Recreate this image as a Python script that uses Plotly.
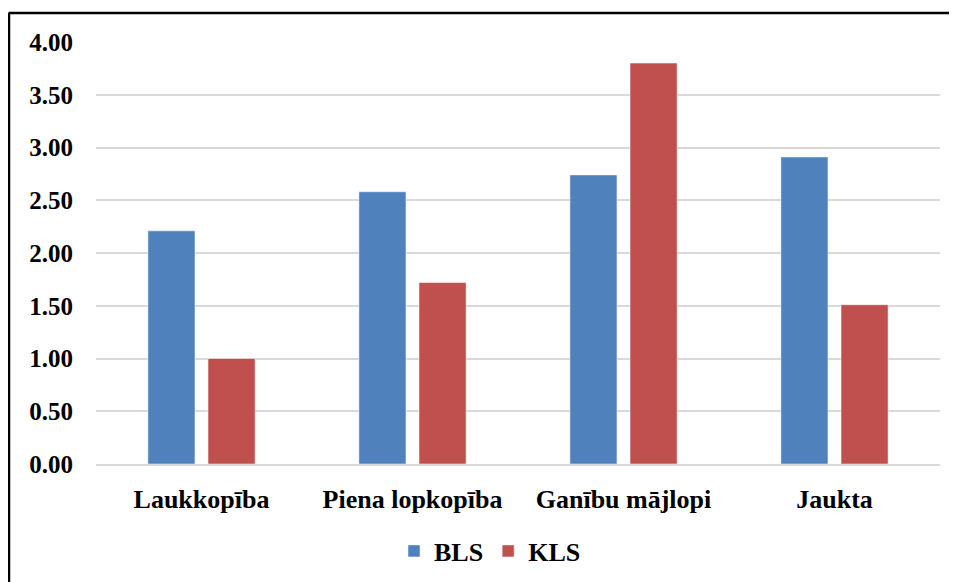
import plotly.graph_objects as go

categories = ["Laukkopība", "Piena lopkopība", "Ganību mājlopi", "Jaukta"]
bls_values = [2.21, 2.58, 2.74, 2.91]
kls_values = [1.00, 1.72, 3.80, 1.51]
y_tick_vals = [0, 0.5, 1, 1.5, 2, 2.5, 3, 3.5, 4]
y_tick_text = ["0.00", "0.50", "1.00", "1.50", "2.00", "2.50", "3.00", "3.50", "4.00"]

FAM = "'Liberation Serif', 'Times New Roman', serif"
TICKFONT = dict(family=FAM, size=25, color="#000000", weight="bold")
CATFONT = dict(family=FAM, size=26, color="#000000", weight="bold")
LEGFONT = dict(family=FAM, size=26, color="#000000", weight="bold")

fig = go.Figure()
fig.add_trace(go.Bar(name="BLS", x=categories, y=bls_values,
                     marker=dict(color="#4F81BD", line=dict(color="#ffffff", width=0.5))))
fig.add_trace(go.Bar(name="KLS", x=categories, y=kls_values,
                     marker=dict(color="#C0504D", line=dict(color="#ffffff", width=0.5))))

# page has an 8px body margin, figure is sized to fill the rest
W, H = 949, 574
OFF = 8
L, R, T, B = 88, 17, 34, 118
pw, ph = W - L - R, H - T - B

def px_x(p):  # page pixel -> paper x
    return (p - OFF - L) / pw

def px_y(p):  # page pixel -> paper y
    return (H - B - (p - OFF)) / ph

fig.update_layout(
    width=W, height=H,
    margin=dict(l=L, r=R, t=T, b=B, pad=0, autoexpand=False),
    paper_bgcolor="white", plot_bgcolor="white",
    barmode="group", bargap=0.43, bargroupgap=0.217,
    font=TICKFONT,
    showlegend=True,
    legend=dict(orientation="h", x=px_x(490), y=px_y(551), xanchor="center", yanchor="middle",
                font=LEGFONT, traceorder="normal", itemwidth=30),
    xaxis=dict(showgrid=False, showline=True, linecolor="#d9d9d9", linewidth=2,
               ticks="", tickfont=CATFONT, ticklabelstandoff=11, automargin=False),
    yaxis=dict(range=[0, 4], tickvals=y_tick_vals, ticktext=y_tick_text,
               showgrid=True, gridcolor="#d9d9d9", gridwidth=2,
               zeroline=False, showline=False, ticks="", tickfont=TICKFONT,
               ticklabelstandoff=22, automargin=False),
    shapes=[
        dict(type="line", xref="paper", yref="paper", x0=px_x(8.5), x1=px_x(970),
             y0=px_y(13), y1=px_y(13), line=dict(color="#000000", width=2.5)),
        dict(type="line", xref="paper", yref="paper", x0=px_x(9), x1=px_x(9),
             y0=px_y(13), y1=px_y(600), line=dict(color="#000000", width=2.5)),
    ],
)

fig.write_html("out.html")
